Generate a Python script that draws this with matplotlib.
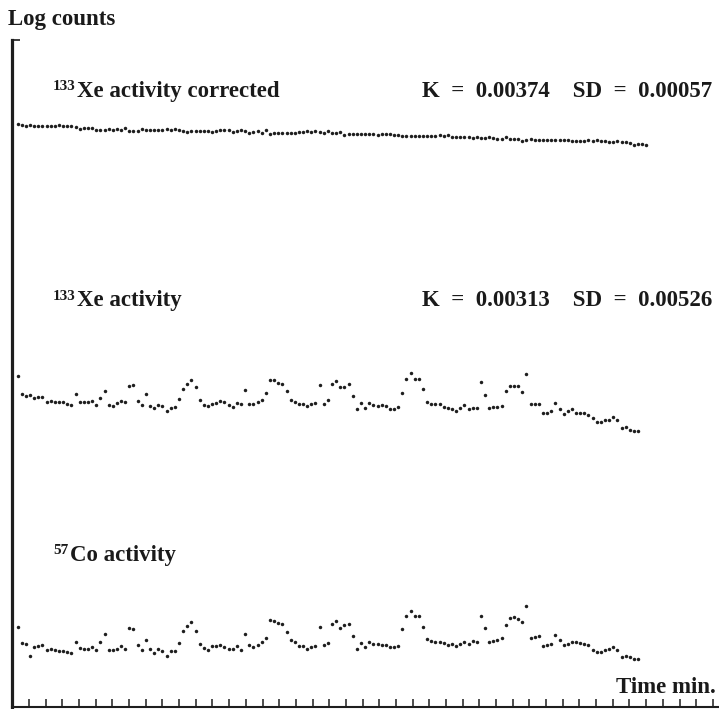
import numpy as np
import matplotlib.pyplot as plt

# log counts (arbitrary units), one sample every ~15 s
xe_corrected = [582.7, 581.7, 581.0, 582.0, 581.3, 581.3, 580.7, 580.7, 580.7, 581.0,
                581.7, 581.0, 581.0, 580.7, 580.0, 577.7, 579.0, 579.3, 579.0, 577.0,
                576.7, 577.3, 578.0, 576.7, 578.0, 577.3, 579.0, 575.7, 576.0, 576.0,
                578.0, 577.3, 576.7, 577.3, 577.3, 577.0, 578.0, 576.7, 577.7, 577.0,
                575.7, 575.3, 575.7, 575.7, 576.0, 576.0, 576.0, 575.3, 576.0, 576.7,
                577.0, 577.3, 574.7, 575.7, 577.3, 575.7, 573.7, 575.3, 576.0, 574.3,
                576.7, 573.0, 573.7, 573.7, 573.7, 573.7, 573.7, 573.7, 575.0, 575.3,
                575.7, 575.3, 575.7, 575.0, 574.3, 576.0, 574.0, 574.0, 575.0, 572.3,
                573.0, 573.0, 573.0, 572.7, 572.7, 572.7, 572.7, 572.3, 573.3, 573.0,
                573.0, 571.7, 572.0, 571.0, 571.0, 571.0, 571.0, 571.0, 571.0, 571.0,
                571.3, 571.3, 572.3, 571.0, 571.7, 569.7, 570.3, 570.3, 570.3, 569.7,
                569.0, 570.0, 569.3, 569.3, 569.7, 569.0, 568.3, 568.3, 569.7, 568.0,
                567.7, 568.3, 566.3, 567.0, 568.3, 567.0, 567.0, 567.0, 567.0, 567.0,
                567.0, 567.0, 567.0, 567.0, 566.0, 565.7, 566.3, 566.3, 567.0, 566.3,
                567.3, 566.3, 566.3, 565.0, 565.0, 565.7, 565.0, 565.3, 564.3, 562.3,
                562.7, 562.7, 562.3]

xe_raw = [331.3, 313.0, 311.3, 312.0, 309.3, 309.7, 310.0, 305.0, 306.3, 305.0,
          305.0, 305.0, 303.0, 302.3, 312.7, 305.3, 305.0, 305.0, 306.3, 302.3,
          309.0, 316.3, 302.3, 301.0, 303.7, 306.0, 305.0, 321.3, 322.0, 305.7,
          302.3, 312.7, 301.3, 298.7, 302.3, 300.7, 296.3, 299.0, 300.0, 308.0,
          318.0, 323.0, 327.3, 319.7, 306.7, 301.7, 300.7, 303.3, 303.7, 306.0,
          305.0, 302.0, 300.0, 304.0, 302.7, 316.7, 303.0, 303.0, 305.0, 306.7,
          313.7, 326.7, 327.0, 324.3, 323.3, 316.3, 307.3, 305.0, 303.3, 303.0,
          300.7, 303.0, 304.0, 321.7, 302.7, 307.0, 322.7, 326.3, 320.0, 320.0,
          322.7, 311.0, 297.7, 303.7, 299.3, 304.0, 301.7, 301.3, 301.7, 301.0,
          297.7, 297.7, 299.7, 314.3, 328.3, 334.0, 328.3, 328.3, 318.0, 305.3,
          303.0, 303.0, 303.0, 300.3, 299.3, 298.0, 296.3, 299.0, 301.7, 297.7,
          299.0, 299.0, 325.3, 312.3, 298.7, 300.3, 300.3, 300.7, 315.7, 320.7,
          321.3, 320.7, 315.3, 332.7, 303.0, 303.0, 303.0, 294.0, 294.3, 296.0,
          303.7, 298.3, 292.7, 296.0, 297.7, 294.0, 294.3, 294.0, 292.3, 289.3,
          285.0, 285.0, 286.7, 286.7, 289.7, 287.3, 279.0, 280.0, 277.0, 276.0,
          276.0]

co57 = [80.3, 63.7, 63.0, 51.3, 60.0, 61.0, 62.3, 57.0, 58.0, 57.3,
        56.3, 56.3, 55.3, 54.3, 65.0, 59.3, 58.3, 58.3, 60.0, 57.0,
        64.7, 72.7, 57.0, 57.0, 58.3, 60.7, 58.3, 79.0, 78.3, 62.0,
        57.0, 67.0, 57.7, 54.0, 57.7, 56.0, 51.3, 55.7, 55.7, 64.3,
        76.0, 81.0, 84.7, 76.0, 63.3, 58.7, 57.0, 61.3, 60.7, 62.3,
        60.3, 57.7, 58.3, 60.7, 57.3, 73.3, 62.0, 60.3, 62.0, 65.0,
        69.3, 86.7, 85.7, 84.3, 82.7, 75.0, 66.7, 65.0, 60.7, 61.0,
        57.7, 60.3, 61.0, 80.3, 62.3, 64.0, 83.3, 85.7, 78.7, 82.0,
        83.0, 71.0, 57.7, 63.7, 60.0, 65.0, 63.0, 62.7, 62.0, 61.7,
        60.0, 60.3, 61.3, 77.7, 91.0, 96.3, 91.0, 91.0, 80.3, 68.3,
        66.0, 65.3, 65.0, 63.7, 62.0, 62.7, 60.7, 62.7, 65.0, 63.0,
        66.0, 65.0, 91.3, 78.7, 65.3, 65.7, 66.7, 68.7, 82.0, 88.7,
        89.7, 88.3, 85.0, 101.3, 69.3, 70.3, 71.0, 61.0, 62.0, 63.0,
        72.0, 67.0, 61.7, 63.3, 65.0, 65.0, 63.7, 63.3, 61.7, 57.0,
        55.0, 55.3, 56.7, 57.7, 60.3, 56.7, 50.3, 51.0, 50.3, 48.3,
        48.3]

t0, dt = 0.32, 0.248   # minutes
W, H = 719, 709

fig = plt.figure(figsize=(W/100, H/100), dpi=100)
ax = fig.add_axes([12.3/W, 2/H, 1 - 12.3/W, 667/H])

for ys in (xe_corrected, xe_raw, co57):
    t = t0 + dt*np.arange(len(ys))
    ax.plot(t, ys, 'o', color='#1e1e1e', ms=2.5, mew=0)

ax.set_xlim(0, (W - 12.3)/16.68)
ax.set_ylim(0, 667)
ax.set_xticks(np.arange(1, 43))
ax.set_yticks([667])
ax.tick_params(axis='x', direction='in', length=5.5, width=1.1, labelbottom=False, color='#1e1e1e')
ax.tick_params(axis='y', direction='in', length=6, width=1.2, labelleft=False, color='#1e1e1e')
for s in ('top', 'right'):
    ax.spines[s].set_visible(False)
ax.spines['left'].set_linewidth(2.3)
ax.spines['bottom'].set_linewidth(1.5)
ax.spines['left'].set_color('#1e1e1e')
ax.spines['bottom'].set_color('#1e1e1e')

tkw = dict(family='Liberation Serif', weight='bold', size=16.5, color='#1a1a1a')

def ftext(x, y, s, **kw):
    fig.text(x/W, 1 - y/H, s, va='baseline', **{**tkw, **kw})

def label(x, y, iso, rest, gap):
    ftext(x, y - 6.5, iso, size=11)
    ftext(x + gap, y, rest)

ftext(8, 25, 'Log counts')
label(53, 97, '133', 'Xe activity corrected', 24)
ftext(712, 97, 'K  =  0.00374    SD  =  0.00057', ha='right')
label(53, 306, '133', 'Xe activity', 24)
ftext(712, 306, 'K  =  0.00313    SD  =  0.00526', ha='right')
label(53, 561, '57', 'Co activity', 17)
ftext(716, 693, 'Time min.', ha='right')

fig.savefig('out.png', dpi=100)
